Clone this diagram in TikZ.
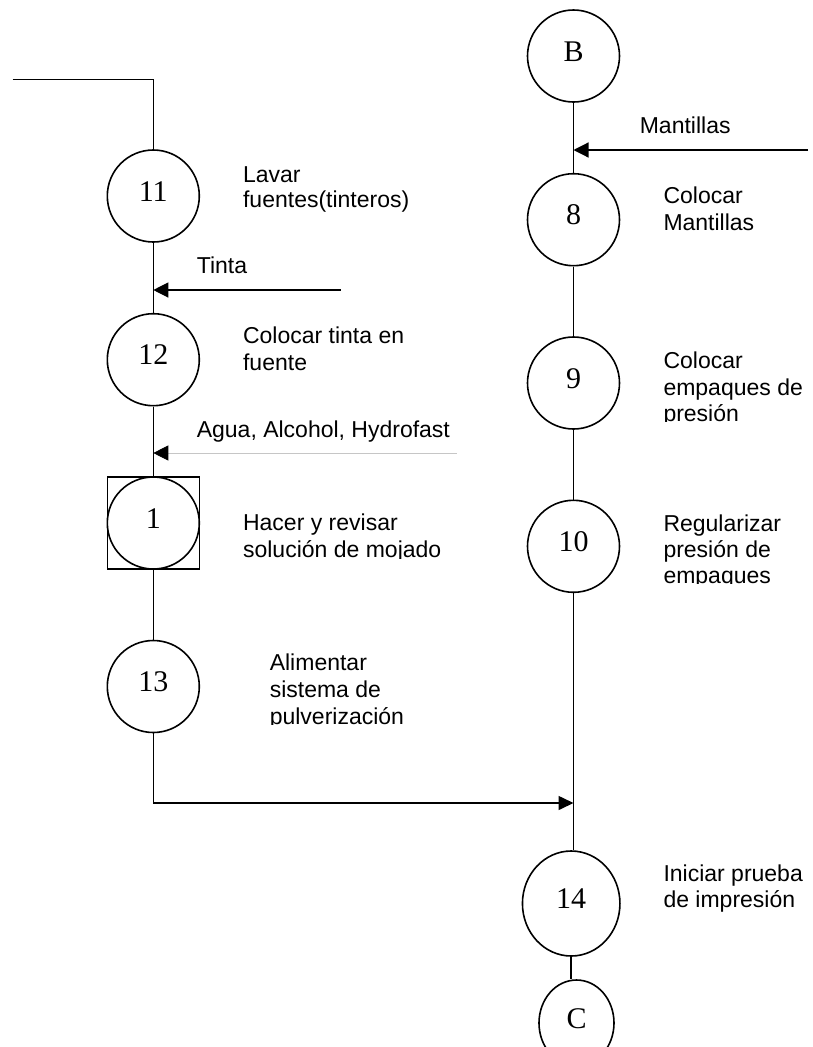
\documentclass[tikz,border=0pt]{standalone}
\usepackage{fontspec}
\setmainfont{Liberation Sans}
\newfontfamily\numfont{Liberation Serif}
\usetikzlibrary{arrows.meta,shapes.geometric}
\begin{document}
\begin{tikzpicture}[x=1pt,y=-1pt,
  line width=1.6pt,
  every node/.style={inner sep=0pt},
  proc/.style={circle,draw,line width=1.6pt,minimum size=92pt,
    font=\numfont\fontsize{30}{32}\selectfont,text height=20pt,text depth=10pt},
  insp/.style={rectangle,draw,line width=1.6pt,minimum size=92pt},
  note/.style={anchor=base west,font=\fontsize{23}{26}\selectfont},
  feed/.style={line width=1.2pt,-{Triangle[length=15pt,width=15pt,color=black]}},
  ]
\clip (0,0) rectangle (812,1047);
\fill[white] (0,0) rectangle (812,1047);

% left column
\coordinate (entry) at (12.7,79.3);
\node[proc] (n11) at (153.3,196) {11};
\node[proc] (n12) at (153.3,359.7) {12};
\node[insp] (sq1) at (153.3,523) {};
\node[proc] (n1) at (153.3,523) {1};
\node[proc] (n13) at (153.3,686.5) {13};

% right column
\node[proc] (nB) at (573.5,56) {B};
\node[proc] (n8) at (573.5,219.7) {8};
\node[proc] (n9) at (573.5,383) {9};
\node[proc] (n10) at (573.5,546.3) {10};
\node[proc,ellipse,minimum width=97.5pt,minimum height=105pt] (n14) at (571.2,903.5) {14};
\node[proc,ellipse,minimum width=75pt,minimum height=86pt] (nC) at (576.5,1023) {C};
\coordinate (merge) at (573.5,803);

% main flow
\draw (entry) -| (n11.north);
\draw (n11) -- (n12);
\draw (n12) -- (sq1);
\draw (sq1) -- (n13);
\draw[-{Triangle[length=15pt,width=14pt]}] (n13) |- (merge);
\draw (nB) -- (n8);
\draw (n8) -- (n9);
\draw (n9) -- (n10);
\draw (n10) -- (n10 |- n14.north);
\draw (n14.south) -- (n14.south |- nC.north);

% material inputs
\coordinate (tinta) at (340.7,290);
\draw[feed] (tinta) -- (tinta -| n11.south);
\coordinate (agua) at (456.7,453);
\draw[feed,draw=gray!45,line width=0.8pt] (agua) -- (agua -| n12.south);
\coordinate (mant) at (808,150);
\draw[feed] (mant) -- (mant -| nB.south);

% input labels
\node[note] (lTinta) at (196,273.3) {Tinta};
\node[note] (lAgua) at (196,437.5) {Agua, Alcohol, Hydrofast};
\node[note] (lMant) at (639,133.3) {Mantillas};

% step descriptions, left
\node[note] (d11a) at (242.3,182) {Lavar};
\node[note] (d11b) at (242.3,207) {fuentes(tinteros)};
\node[note] (d12a) at (242.3,343.3) {Colocar tinta en};
\node[note] (d12b) at (242.3,370) {fuente};
\begin{scope}
  \clip (230,500) rectangle (470,558.5);
  \node[note] (d1a) at (242.3,530.7) {Hacer y revisar};
  \node[note] (d1b) at (242.3,557.7) {solución de mojado};
\end{scope}
\begin{scope}
  \clip (255,640) rectangle (470,724.3);
  \node[note] (d13a) at (269,670.7) {Alimentar};
  \node[note] (d13b) at (269,697.7) {sistema de};
  \node[note] (d13c) at (269,724.7) {pulverización};
\end{scope}

% step descriptions, right
\node[note] (d8a) at (662.7,203.3) {Colocar};
\node[note] (d8b) at (662.7,230) {Mantillas};
\begin{scope}
  \clip (650,340) rectangle (812,421.5);
  \node[note] (d9a) at (662.7,368.3) {Colocar};
  \node[note] (d9b) at (662.7,395) {empaques de};
  \node[note] (d9c) at (662.7,421.7) {presión};
\end{scope}
\begin{scope}
  \clip (650,505) rectangle (812,583.2);
  \node[note] (d10a) at (662.7,531.7) {Regularizar};
  \node[note] (d10b) at (662.7,557.3) {presión de};
  \node[note] (d10c) at (662.7,583.3) {empaques};
\end{scope}
\node[note] (d14a) at (662.7,881.7) {Iniciar prueba};
\node[note] (d14b) at (662.7,907.7) {de impresión};
\end{tikzpicture}
\end{document}
